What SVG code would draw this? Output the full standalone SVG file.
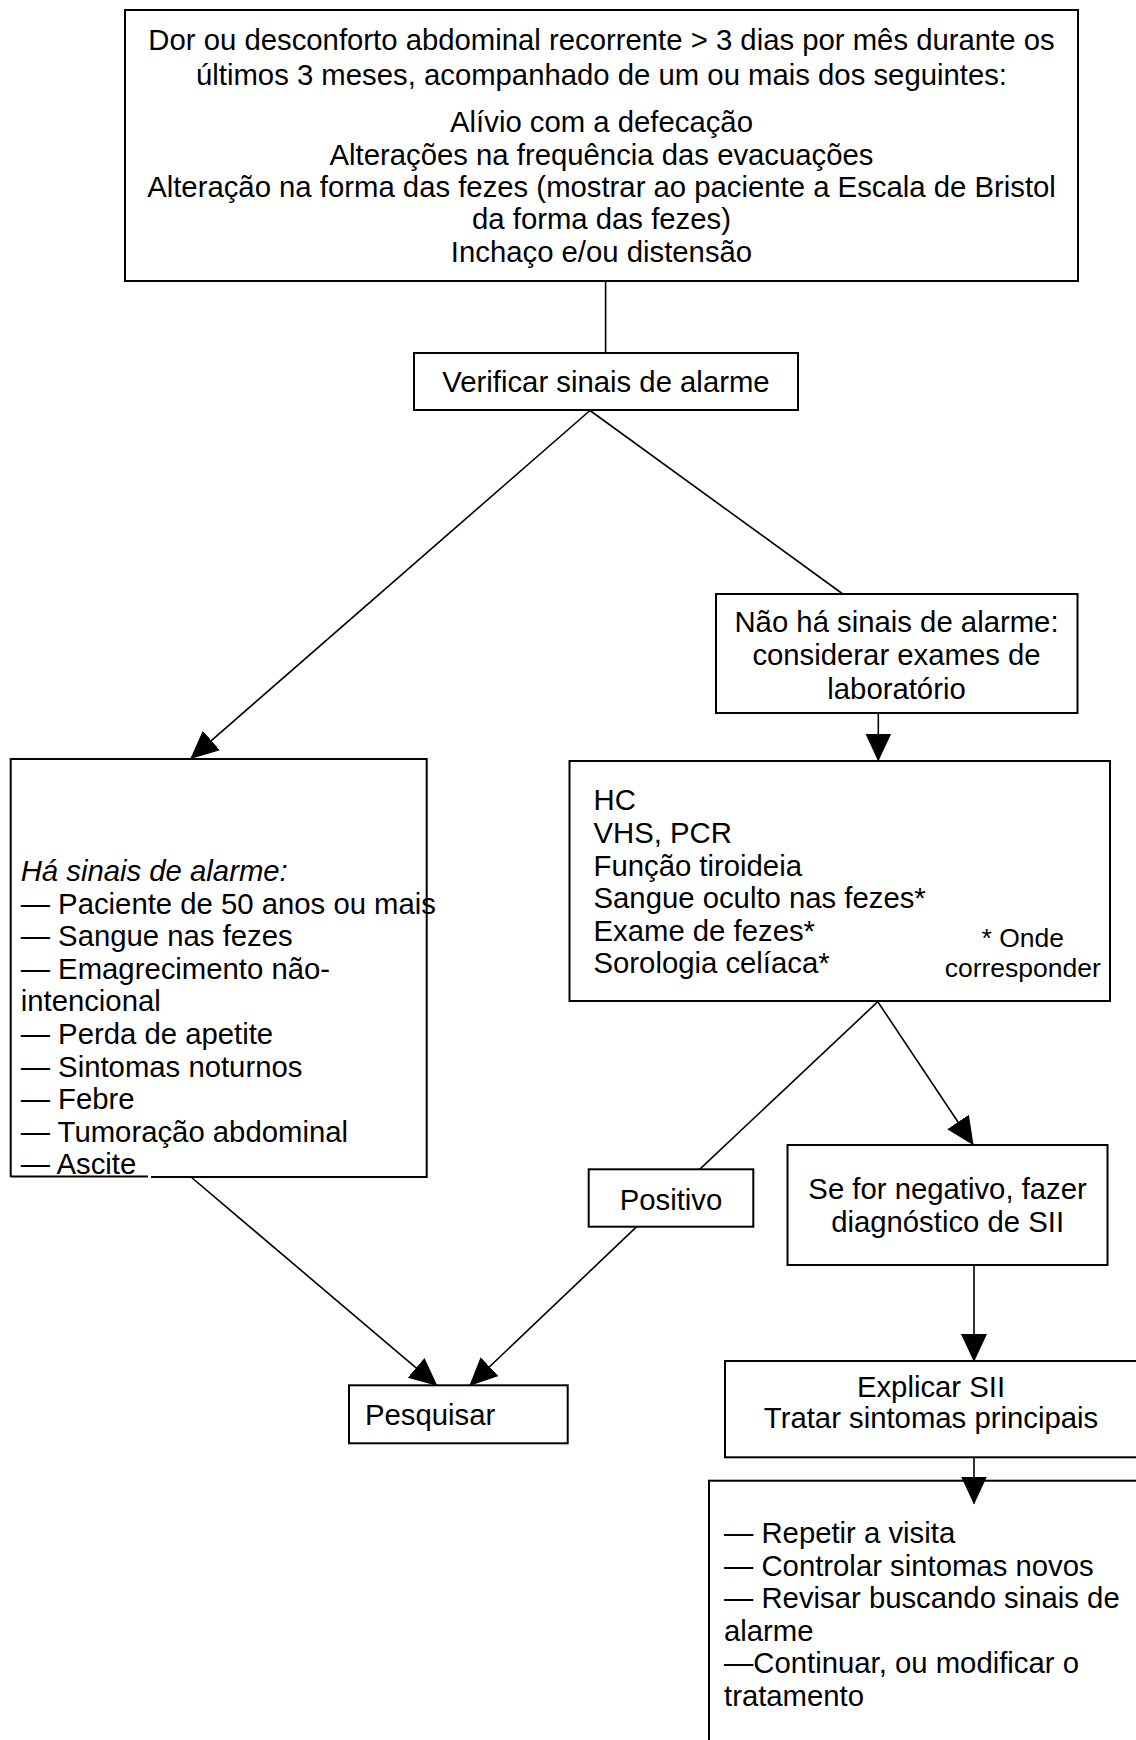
<svg xmlns="http://www.w3.org/2000/svg" width="1136" height="1740" viewBox="0 0 1136 1740">
<style>
.box{fill:#fff;stroke:#000;stroke-width:2}
.t{font-family:"Liberation Sans",Arial,sans-serif;font-size:29.3px;fill:#000}
.c{text-anchor:middle}
.s{font-size:26.5px}
.ln{stroke:#000;stroke-width:1.6;fill:none}
</style>
<defs>
<marker id="ah" markerUnits="userSpaceOnUse" markerWidth="28" markerHeight="28" viewBox="0 0 28 28" refX="27" refY="14" orient="auto">
<path d="M0,1 L28,14 L0,27 z" fill="#000"/>
</marker>
</defs>
<rect width="1136" height="1740" fill="#fff"/>

<g id="n-criterios">
<rect class="box" x="125" y="10" width="953" height="271"/>
<text class="t c" x="601.5" y="50">Dor ou desconforto abdominal recorrente &gt; 3 dias por mês durante os</text>
<text class="t c" x="601.5" y="85">últimos 3 meses, acompanhado de um ou mais dos seguintes:</text>
<text class="t c" x="601.5" y="131.5">Alívio com a defecação</text>
<text class="t c" x="601.5" y="164.5">Alterações na frequência das evacuações</text>
<text class="t c" x="601.5" y="197">Alteração na forma das fezes (mostrar ao paciente a Escala de Bristol</text>
<text class="t c" x="601.5" y="229">da forma das fezes)</text>
<text class="t c" x="601.5" y="262">Inchaço e/ou distensão</text>
</g>

<g id="n-verificar">
<rect class="box" x="414" y="353" width="384" height="57"/>
<text class="t c" x="606" y="392">Verificar sinais de alarme</text>
</g>

<g id="n-nao-ha">
<rect class="box" x="716" y="594" width="361.5" height="119"/>
<text class="t c" x="896.5" y="632">Não há sinais de alarme:</text>
<text class="t c" x="896.5" y="665">considerar exames de</text>
<text class="t c" x="896.5" y="698.5">laboratório</text>
</g>

<g id="n-ha-sinais">
<path d="M10.7,1177 L10.7,759 L426.7,759 L426.7,1177 L151,1177 M148,1176.5 L10.7,1176.5" fill="#fff" stroke="#000" stroke-width="2"/>
<text class="t" x="20.7" y="881" font-style="italic">Há sinais de alarme:</text>
<text class="t" x="20.7" y="913.6">— Paciente de 50 anos ou mais</text>
<text class="t" x="20.7" y="946.2">— Sangue nas fezes</text>
<text class="t" x="20.7" y="978.8">— Emagrecimento não-</text>
<text class="t" x="20.7" y="1011.4">intencional</text>
<text class="t" x="20.7" y="1044">— Perda de apetite</text>
<text class="t" x="20.7" y="1076.6">— Sintomas noturnos</text>
<text class="t" x="20.7" y="1109.2">— Febre</text>
<text class="t" x="20.7" y="1141.8">— Tumoração abdominal</text>
<text class="t" x="20.7" y="1174.4">— Ascite</text>
</g>

<g id="n-exames">
<rect class="box" x="569.5" y="761" width="540.5" height="240"/>
<text class="t" x="593.5" y="810">HC</text>
<text class="t" x="593.5" y="843">VHS, PCR</text>
<text class="t" x="593.5" y="875.5">Função tiroideia</text>
<text class="t" x="593.5" y="908">Sangue oculto nas fezes*</text>
<text class="t" x="593.5" y="940.5">Exame de fezes*</text>
<text class="t" x="593.5" y="973">Sorologia celíaca*</text>
<text class="t s c" x="1022.8" y="947">* Onde</text>
<text class="t s c" x="1022.8" y="977">corresponder</text>
</g>

<g id="n-positivo">
<rect class="box" x="588.7" y="1169.3" width="164.6" height="57.4"/>
<text class="t c" x="671" y="1209.5">Positivo</text>
</g>

<g id="n-negativo">
<rect class="box" x="787.5" y="1145" width="320" height="120"/>
<text class="t c" x="947.6" y="1199">Se for negativo, fazer</text>
<text class="t c" x="947.6" y="1232">diagnóstico de SII</text>
</g>

<g id="n-pesquisar">
<rect class="box" x="349" y="1385.3" width="218.7" height="58"/>
<text class="t" x="365" y="1425">Pesquisar</text>
</g>

<g id="n-explicar">
<rect class="box" x="725" y="1361" width="420" height="96.3"/>
<text class="t c" x="931" y="1396.7">Explicar SII</text>
<text class="t c" x="931" y="1428">Tratar sintomas principais</text>
</g>

<g id="n-seguimento">
<rect class="box" x="709" y="1480.7" width="440" height="270"/>
<text class="t" x="724" y="1543">— Repetir a visita</text>
<text class="t" x="724" y="1575.6">— Controlar sintomas novos</text>
<text class="t" x="724" y="1608.2">— Revisar buscando sinais de</text>
<text class="t" x="724" y="1640.8">alarme</text>
<text class="t" x="724" y="1673.4">—Continuar, ou modificar o</text>
<text class="t" x="724" y="1706">tratamento</text>
</g>

<g id="connectors">
<line class="ln" x1="605.6" y1="281" x2="605.6" y2="353"/>
<line class="ln" x1="590" y1="410.5" x2="191" y2="758.3" marker-end="url(#ah)"/>
<line class="ln" x1="590" y1="410.5" x2="842.8" y2="594"/>
<line class="ln" x1="878.3" y1="713.3" x2="878.3" y2="760.5" marker-end="url(#ah)"/>
<line class="ln" x1="877.8" y1="1001.7" x2="699.6" y2="1169.3"/>
<line class="ln" x1="877.8" y1="1001.7" x2="973" y2="1144.5" marker-end="url(#ah)"/>
<line class="ln" x1="636.7" y1="1226.7" x2="470" y2="1385.3" marker-end="url(#ah)"/>
<line class="ln" x1="191" y1="1177" x2="436.7" y2="1385.3" marker-end="url(#ah)"/>
<line class="ln" x1="974" y1="1265" x2="974" y2="1361" marker-end="url(#ah)"/>
<line class="ln" x1="974" y1="1457.3" x2="974" y2="1503.5" marker-end="url(#ah)"/>
</g>
</svg>
